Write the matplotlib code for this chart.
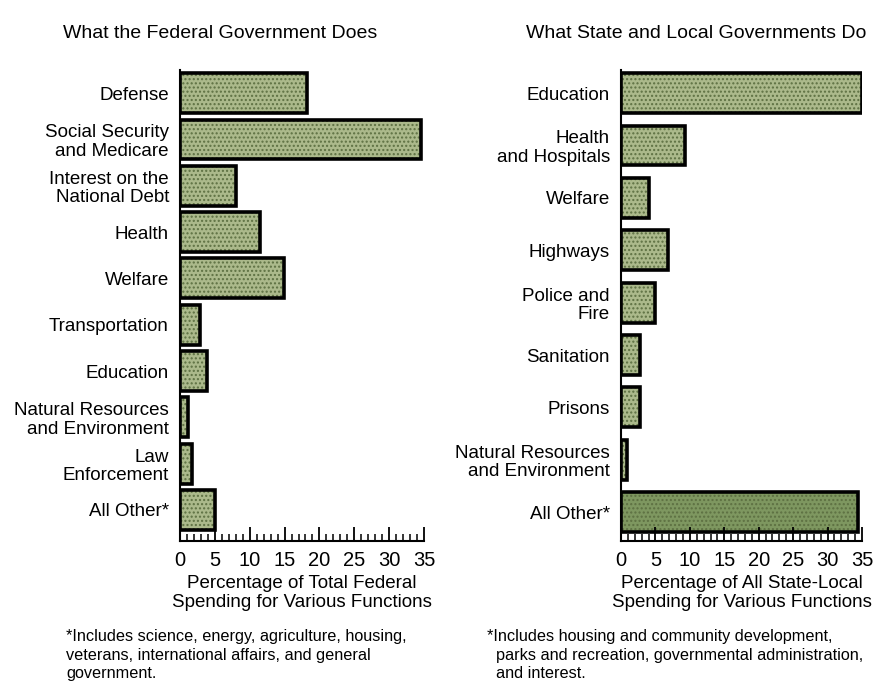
import numpy as np
import matplotlib.pyplot as plt
from matplotlib.ticker import MultipleLocator

plt.rcParams['font.family'] = ['Liberation Sans', 'DejaVu Sans']

# Federal spending shares (percent)
federal_labels = ["Defense", "Social Security\nand Medicare", "Interest on the\nNational Debt",
                  "Health", "Welfare", "Transportation", "Education",
                  "Natural Resources\nand Environment", "Law\nEnforcement", "All Other*"]
federal_values = [18.2, 34.6, 8.0, 11.5, 14.9, 2.9, 3.9, 1.2, 1.7, 5.0]

# State and local spending shares (percent)
state_labels = ["Education", "Health\nand Hospitals", "Welfare", "Highways",
                "Police and\nFire", "Sanitation", "Prisons",
                "Natural Resources\nand Environment", "All Other*"]
state_values = [35.0, 9.3, 4.0, 6.8, 4.9, 2.8, 2.8, 0.9, 34.4]
state_dark = [False, False, False, False, False, False, False, False, True]

xticks = [0, 5, 10, 15, 20, 25, 30, 35]

W, H = 874, 682
fig = plt.figure(figsize=(W / 100, H / 100), dpi=100)

light = '#abb98b'
dark = '#7e9760'


def make_panel(rect, labels, values, bar_h, ylim, colors, xlabel):
    ax = fig.add_axes(rect)
    y = np.arange(len(values))
    ax.barh(y, values, height=bar_h, color=colors, edgecolor='#5d7042',
            hatch='....', linewidth=0)
    ax.barh(y, values, height=bar_h, fill=False, edgecolor='black', linewidth=2.6)
    ax.set_yticks(y)
    ax.set_yticklabels(labels, fontsize=13.5, linespacing=1.1)
    ax.tick_params(axis='y', length=0, pad=8)
    ax.set_ylim(*ylim)
    ax.set_xlim(0, 35)
    ax.set_xticks(xticks)
    ax.xaxis.set_minor_locator(MultipleLocator(1))
    ax.tick_params(axis='x', which='major', direction='in', length=10, width=1.3,
                   labelsize=14.5, pad=7)
    ax.tick_params(axis='x', which='minor', direction='in', length=5, width=1.1)
    ax.tick_params(axis='x', which='both', top=False)
    for s in ['top', 'right']:
        ax.spines[s].set_visible(False)
    ax.spines['left'].set_linewidth(1.5)
    ax.spines['bottom'].set_linewidth(1.5)
    ax.set_xlabel(xlabel, fontsize=13.5, labelpad=4, linespacing=1.1)
    return ax


def rect(x0, x1, y0, y1):
    return [x0 / W, 1 - y1 / H, (x1 - x0) / W, (y1 - y0) / H]


make_panel(rect(180, 424, 70, 541), federal_labels, federal_values, 0.86,
           (len(federal_values) - 1 + 0.67, -0.5), [light] * len(federal_values),
           "Percentage of Total Federal\nSpending for Various Functions")

make_panel(rect(621, 862, 70, 541), state_labels, state_values, 0.76,
           (len(state_values) - 1 + 0.55, -0.44),
           [dark if d else light for d in state_dark],
           "Percentage of All State-Local\nSpending for Various Functions")

fig.text(220 / W, 1 - 34 / H, "What the Federal Government Does", fontsize=14,
         ha='center', va='center')
fig.text(696 / W, 1 - 34 / H, "What State and Local Governments Do", fontsize=14,
         ha='center', va='center')

fig.text(66 / W, 1 - 629 / H,
         "*Includes science, energy, agriculture, housing,\n"
         "veterans, international affairs, and general\n"
         "government.",
         fontsize=11.7, ha='left', va='top', linespacing=1.3)
fig.text(487 / W, 1 - 629 / H,
         "*Includes housing and community development,\n"
         "  parks and recreation, governmental administration,\n"
         "  and interest.",
         fontsize=11.7, ha='left', va='top', linespacing=1.3)

fig.savefig('out.png', dpi=100)
